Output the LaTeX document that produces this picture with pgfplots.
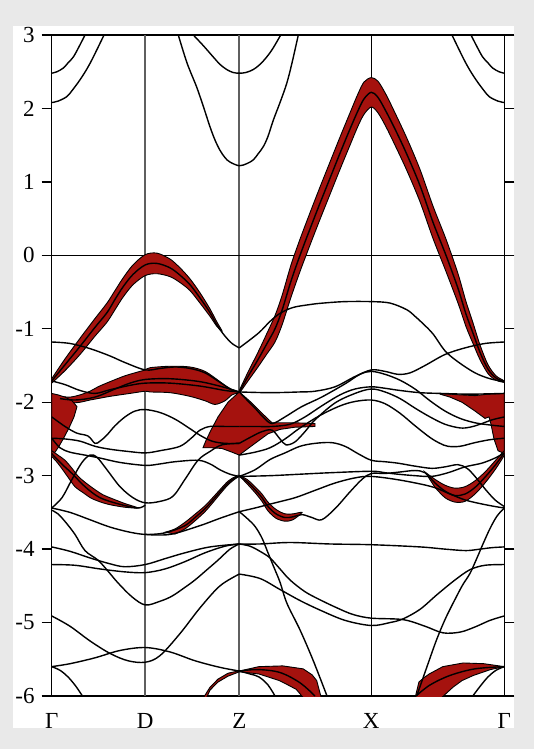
\documentclass[border=0pt]{standalone}
\usepackage{fontspec}
\setmainfont{Liberation Serif}
\usepackage{pgfplots}
\pgfplotsset{compat=1.18}
\definecolor{bgc}{RGB}{233,233,233}
\definecolor{fatred}{RGB}{165,18,14}
\definecolor{symline}{RGB}{95,95,95}
\pgfplotsset{
  bl/.style={black, line width=0.7pt, smooth, tension=0.55, no marks},
  fat/.style={fill=fatred, draw=black, line width=0.45pt, no marks},
  fats/.style={fill=fatred, draw=black, line width=0.45pt, no marks, smooth, tension=0.5},
}
\begin{document}
\begin{tikzpicture}
\fill[bgc] (0pt,0pt) rectangle (267pt,-374.5pt);
\fill[white] (6.5pt,-13pt) rectangle (257pt,-364pt);
\begin{axis}[
  at={(25.85pt,-348pt)}, anchor=south west,
  scale only axis, width=226.3pt, height=330.5pt,
  xmin=51.7, xmax=504.3, ymin=-6, ymax=3,
  axis line style={black, line width=0.65pt},
  ytick={-6,-5,-4,-3,-2,-1,0,1,2,3},
  yticklabels={-6,-5,-4,-3,-2,-1,0,1,2,3},
  ytick pos=both, yticklabel pos=left,
  tick align=outside, major tick length=5pt,
  ytick style={black, line width=0.65pt},
  xtick={51.7,145.3,239.3,371.3,504.3},
  xticklabels={Γ,D,Z,X,Γ},
  xtick style={draw=none},
  ticklabel style={font=\fontsize{11.5}{11.5}\selectfont},
  clip=true,
]
% ---------- reference lines
\addplot[symline, line width=1pt] coordinates {(145.3,-6)(145.3,3)};
\addplot[symline, line width=1pt] coordinates {(239.3,-6)(239.3,3)};
\addplot[black, line width=0.65pt] coordinates {(371.3,-6)(371.3,3)};
\addplot[black, line width=0.65pt] coordinates {(51.7,0)(504.3,0)};

% ---------- fat bands
\addplot[fats] coordinates {(51.7,-1.68)(65,-1.41)(80,-1.13)(95,-0.86)(107,-0.65)(115,-0.48)(123,-0.31)(133,-0.13)(145.3,0.01)(157,0.03)(170,-0.05)(180,-0.17)(190,-0.32)(200,-0.51)(210,-0.73)(217,-0.91)(222,-1.03)
 (217,-0.97)(210,-0.83)(200,-0.65)(190,-0.48)(180,-0.37)(170,-0.29)(157,-0.25)(145.3,-0.275)(133,-0.40)(123,-0.57)(115,-0.74)(107,-0.91)(95,-1.10)(80,-1.35)(65,-1.57)(51.7,-1.74)} -- cycle;
\addplot[fats] coordinates {(239.3,-1.84)(248,-1.59)(258,-1.32)(267,-1.06)(275,-0.82)(282,-0.55)(291,-0.13)(300,0.22)(310,0.58)(320,0.93)(330,1.27)(340,1.61)(350,1.94)(358,2.2)(364,2.36)(371.3,2.42)(378,2.37)(386,2.19)(395,1.94)(406.7,1.60)(420,1.17)(433,0.67)(446,0.22)(458,-0.25)(466,-0.63)(473,-0.92)(480,-1.22)(488,-1.49)(496,-1.64)(504.3,-1.71)
 (504.3,-1.73)(496,-1.70)(488,-1.61)(480,-1.42)(473,-1.20)(466,-0.97)(458,-0.65)(446,-0.22)(433,0.23)(420,0.73)(406.7,1.16)(395,1.50)(386,1.75)(378,1.94)(371.3,2.02)(364,1.92)(358,1.76)(350,1.50)(340,1.17)(330,0.83)(320,0.49)(310,0.14)(300,-0.22)(291,-0.57)(282,-0.95)(275,-1.18)(267,-1.34)(258,-1.52)(248,-1.71)(239.3,-1.88)} -- cycle;
\addplot[fats] coordinates {(60,-1.92)(70,-1.93)(80,-1.9)(90,-1.85)(98,-1.79)(110,-1.72)(125,-1.64)(140,-1.58)(145.3,-1.56)(150,-1.53)(170,-1.51)(190,-1.52)(205,-1.58)(220,-1.72)(232,-1.84)(239.3,-1.86)
 (239.3,-1.87)(232,-1.9)(225,-1.98)(215,-2.03)(205,-1.98)(190,-1.92)(170,-1.87)(150,-1.86)(145.3,-1.85)(130,-1.88)(110,-1.92)(98,-1.95)(90,-1.97)(80,-2.0)(70,-2.01)(60,-1.98)} -- cycle;
\addplot[fat] coordinates {(51.7,-1.88)(58,-1.9)(65,-1.93)(72,-1.98)(77,-2.06)(74,-2.2)(69,-2.35)(64,-2.48)(59,-2.6)(55,-2.68)(51.7,-2.72)} -- cycle;
\addplot[fat] coordinates {(440,-1.88)(460,-1.9)(475,-1.91)(488,-1.89)(504.3,-1.88)(504.3,-2.7)(498,-2.66)(494,-2.5)(491,-2.3)(489,-2.2)(485,-2.22)(475,-2.12)(462,-2.0)(450,-1.93)(440,-1.89)} -- cycle;
\addplot[fat] coordinates {(239.3,-1.86)(228,-2.0)(218,-2.2)(211,-2.38)(206,-2.52)(203,-2.62)(212,-2.62)(222,-2.63)(232,-2.68)(239.3,-2.72)(248,-2.63)(258,-2.53)(268,-2.43)(280,-2.37)(295,-2.34)(315,-2.33)(315,-2.29)(295,-2.28)(280,-2.28)(272,-2.28)(262,-2.15)(251,-2.0)(239.3,-1.86)} -- cycle;
\addplot[fats] coordinates {(51.7,-2.66)(58,-2.72)(65,-2.79)(72,-2.9)(78.3,-3.01)(86,-3.1)(95,-3.19)(103,-3.26)(111.7,-3.31)(125,-3.38)(138,-3.44)
 (125,-3.43)(111.7,-3.4)(103,-3.37)(91.7,-3.31)(83,-3.23)(75,-3.15)(68,-3.02)(61.7,-2.9)(56,-2.8)(51.7,-2.74)} -- cycle;
\addplot[fats] coordinates {(165,-3.77)(175,-3.725)(185,-3.635)(195,-3.525)(205,-3.41)(213,-3.295)(220,-3.19)(228,-3.075)(235,-3.015)(239.3,-3.005)
 (235,-3.045)(228,-3.125)(220,-3.25)(213,-3.365)(205,-3.49)(195,-3.615)(185,-3.725)(175,-3.795)} -- cycle;
\addplot[fats] coordinates {(239.3,-3.0)(247,-3.05)(255,-3.15)(262,-3.25)(268,-3.36)(276,-3.46)(285,-3.52)(293,-3.52)(302,-3.5)
 (293,-3.60)(285,-3.62)(276,-3.58)(268,-3.48)(262,-3.35)(255,-3.23)(247,-3.11)} -- cycle;
\addplot[fats] coordinates {(425,-2.95)(435,-3.05)(445,-3.13)(455,-3.17)(465,-3.15)(475,-3.07)(485,-2.95)(495,-2.8)(504.3,-2.66)
 (504.3,-2.72)(495,-2.92)(485,-3.1)(475,-3.25)(465,-3.35)(455,-3.36)(445,-3.3)(435,-3.16)} -- cycle;
\addplot[fat] coordinates {(239.4,-5.66)(258.9,-5.6)(282.7,-5.59)(303.1,-5.63)(312,-5.71)(316.7,-5.79)(321.2,-6.02)(321.2,-6.2)(303.1,-6.2)(303.1,-6.02)(296.3,-5.91)(288,-5.85)(279.3,-5.79)(268,-5.74)(258.9,-5.70)(239.4,-5.67)} -- cycle;
\addplot[fat] coordinates {(200,-6.1)(210,-5.88)(218,-5.77)(228,-5.69)(239.4,-5.655)(239.4,-5.67)(228,-5.73)(218,-5.81)(210,-5.92)(204,-6.1)} -- cycle;
\addplot[fat] coordinates {(412,-6.2)(418.9,-5.81)(424,-5.75)(429.2,-5.70)(442.8,-5.6)(463.2,-5.55)(483.7,-5.56)(504.3,-5.6)(490.5,-5.64)(473.4,-5.72)(462,-5.79)(453,-5.88)(439.4,-6.05)(437,-6.2)} -- cycle;

% ---------- upper lines
\addplot[bl] coordinates {(51.7,2.48)(57,2.5)(63.3,2.55)(68,2.62)(73.3,2.70)(79,2.84)(85,3.0)};
\addplot[bl] coordinates {(51.7,2.08)(58,2.1)(66.7,2.16)(73,2.26)(80,2.39)(87,2.54)(93.3,2.7)(104,3.0)};
\addplot[bl] coordinates {(504.3,2.48)(499,2.5)(492.7,2.55)(488,2.62)(482.7,2.70)(477,2.84)(471,3.0)};
\addplot[bl] coordinates {(504.3,2.08)(498,2.1)(489.3,2.16)(483,2.26)(476,2.39)(469,2.54)(462.7,2.7)(452,3.0)};
\addplot[bl] coordinates {(193.3,3.0)(203,2.86)(213.3,2.70)(220,2.6)(226.7,2.53)(233,2.49)(239.3,2.48)(246,2.49)(253.3,2.53)(260,2.6)(266.7,2.70)(273,2.82)(280.7,3.0)};
\addplot[bl] coordinates {(178.3,3.0)(187,2.62)(196.7,2.29)(204,2.0)(210,1.75)(215,1.57)(220,1.43)(225,1.33)(230,1.27)(239.3,1.22)(247,1.25)(253.3,1.30)(258,1.38)(263.3,1.48)(268,1.62)(273.3,1.84)(280,2.08)(286.7,2.34)(292,2.62)(298.3,3.0)};

% ---------- fat band centre lines
\addplot[bl] coordinates {(51.7,-1.71)(65,-1.49)(80,-1.24)(95,-0.98)(107,-0.78)(115,-0.6)(123,-0.43)(133,-0.26)(145.3,-0.13)(157,-0.11)(170,-0.17)(180,-0.27)(190,-0.40)(200,-0.58)(210,-0.78)(217,-0.95)(225,-1.1)(232,-1.2)(239.3,-1.26)};
\addplot[bl] coordinates {(239.3,-1.86)(248,-1.65)(258,-1.42)(267,-1.2)(275,-1.0)(282,-0.75)(291,-0.35)(300,0.0)(310,0.36)(320,0.71)(330,1.05)(340,1.39)(350,1.72)(358,1.97)(364,2.13)(371.3,2.22)(378,2.15)(386,1.96)(395,1.72)(406.7,1.38)(420,0.95)(433,0.45)(446,0.0)(458,-0.45)(466,-0.8)(473,-1.06)(480,-1.32)(488,-1.55)(496,-1.67)(504.3,-1.72)};
\addplot[bl] coordinates {(51.7,-2.7)(61.7,-2.84)(72,-2.97)(85,-3.15)(100,-3.3)(120,-3.39)(138,-3.44)(145.3,-3.4)};

% ---------- Gamma-D-Z lines
\addplot[bl] coordinates {(51.7,-1.18)(70,-1.2)(90,-1.27)(110,-1.37)(125,-1.46)(145.3,-1.56)(160,-1.54)(175,-1.52)(190,-1.54)(205,-1.6)(220,-1.73)(232,-1.83)(239.3,-1.86)};
\addplot[bl] coordinates {(51.7,-1.71)(65,-1.76)(80,-1.84)(95,-1.88)(110,-1.83)(130,-1.77)(145.3,-1.74)(170,-1.74)(200,-1.78)(225,-1.84)(239.3,-1.86)};
\addplot[bl] coordinates {(60,-1.95)(75,-1.97)(95,-1.93)(115,-1.82)(130,-1.74)(145.3,-1.69)(170,-1.68)(200,-1.72)(225,-1.8)(239.3,-1.86)};
\addplot[bl] coordinates {(51.7,-2.2)(65,-2.33)(76.7,-2.42)(88,-2.46)(95,-2.56)(100,-2.53)(106.7,-2.45)(115,-2.32)(125,-2.2)(135,-2.12)(145.3,-2.1)(160,-2.14)(175,-2.23)(190,-2.36)(200,-2.45)(212,-2.53)(225,-2.56)(239.3,-2.56)};
\addplot[bl] coordinates {(51.7,-2.49)(65,-2.5)(80,-2.53)(95,-2.6)(110,-2.64)(128,-2.67)(145.3,-2.69)(160,-2.66)(180,-2.6)(192,-2.48)(200,-2.38)(210,-2.33)(225,-2.33)(239.3,-2.33)};
\addplot[bl] coordinates {(51.7,-2.49)(60,-2.62)(70,-2.68)(85,-2.72)(100,-2.76)(120,-2.82)(145.3,-2.86)(160,-2.84)(175,-2.81)(198,-2.79)(210,-2.84)(220,-2.92)(230,-2.98)(239.3,-3.01)};
\addplot[bl] coordinates {(51.7,-3.44)(62,-3.3)(72,-3.05)(82,-2.82)(90,-2.72)(97,-2.75)(107,-2.92)(120,-3.15)(133,-3.3)(145.3,-3.37)(160,-3.35)(173,-3.28)(185,-3.05)(198,-2.79)(210,-2.67)(222,-2.58)(239.3,-2.56)};
\addplot[bl] coordinates {(51.7,-3.44)(70,-3.5)(90,-3.6)(110,-3.7)(130,-3.77)(145.3,-3.8)(160,-3.79)(170,-3.76)(185,-3.68)(195,-3.57)(205,-3.45)(213,-3.33)(220,-3.22)(228,-3.1)(235,-3.03)(239.3,-3.01)};
\addplot[bl] coordinates {(145.3,-3.8)(170,-3.8)(200,-3.68)(220,-3.58)(239.3,-3.49)};

% ---------- Z-X-Gamma lines
\addplot[bl] coordinates {(239.3,-1.26)(250,-1.15)(260,-1.04)(270,-0.9)(280,-0.79)(293,-0.71)(310,-0.67)(323,-0.65)(345,-0.63)(371.3,-0.63)(390,-0.65)(406.7,-0.74)(415,-0.83)(423,-0.93)(433,-1.07)(445,-1.3)(458,-1.45)(475,-1.6)(490,-1.68)(504.3,-1.72)};
\addplot[bl] coordinates {(239.3,-1.86)(270,-1.87)(300,-1.86)(315,-1.85)(335,-1.79)(355,-1.65)(371.3,-1.56)(385,-1.58)(398,-1.62)(410,-1.6)(425,-1.5)(445,-1.35)(465,-1.26)(485,-1.2)(504.3,-1.18)};
\addplot[bl] coordinates {(239.3,-1.86)(247,-1.97)(255,-2.08)(263,-2.2)(272,-2.29)(285,-2.2)(301.7,-2.06)(321.7,-1.93)(345,-1.75)(360,-1.62)(371.3,-1.58)(385,-1.62)(400,-1.7)(415,-1.82)(430,-1.98)(445,-2.12)(460,-2.22)(475,-2.28)(490,-2.31)(504.3,-2.33)};
\addplot[bl] coordinates {(239.3,-2.33)(255,-2.33)(272,-2.33)(290,-2.3)(305,-2.2)(321.7,-2.05)(340,-1.9)(355,-1.82)(371.3,-1.79)(385,-1.81)(400,-1.84)(420,-1.87)(440,-1.88)(470,-1.89)(504.3,-1.88)};
\addplot[bl] coordinates {(239.3,-2.56)(250,-2.48)(262,-2.4)(272,-2.38)(280,-2.5)(286,-2.58)(295,-2.54)(305,-2.4)(315,-2.24)(335,-2.01)(355,-1.88)(371.3,-1.82)(385,-1.86)(400,-1.95)(415,-2.08)(430,-2.2)(445,-2.3)(460,-2.35)(470,-2.34)(480,-2.3)(492,-2.24)(504.3,-2.2)};
\addplot[bl] coordinates {(239.3,-2.72)(255,-2.68)(270,-2.62)(285,-2.5)(300,-2.35)(320,-2.18)(340,-2.05)(355,-1.99)(371.3,-1.97)(385,-2.02)(400,-2.15)(415,-2.32)(430,-2.48)(440,-2.56)(448,-2.6)(460,-2.6)(475,-2.55)(490,-2.51)(504.3,-2.49)};
\addplot[bl] coordinates {(239.3,-3.01)(255,-2.92)(270,-2.78)(285,-2.69)(300,-2.6)(315,-2.56)(331.7,-2.55)(345,-2.6)(358,-2.7)(371.3,-2.79)(385,-2.81)(398,-2.83)(415,-2.87)(431.7,-2.9)(445,-2.88)(458,-2.85)(467,-2.9)(475,-3.01)(485,-3.18)(495,-3.33)(504.3,-3.42)};
\addplot[bl] coordinates {(239.3,-3.01)(270,-3.0)(300,-2.98)(330,-2.96)(371.3,-2.94)(385,-2.96)(398,-2.98)(415,-3.0)(431.7,-3.01)(448,-2.96)(465,-2.88)(481.7,-2.83)(495,-2.76)(504.3,-2.69)};
\addplot[bl] coordinates {(239.3,-3.49)(255,-3.44)(275,-3.37)(295,-3.3)(315,-3.2)(335,-3.1)(355,-3.03)(371.3,-3.01)(400,-3.06)(431.7,-3.15)(450,-3.25)(465,-3.33)(480,-3.38)(495,-3.42)(504.3,-3.44)};
\addplot[bl] coordinates {(239.3,-3.01)(247,-3.08)(255,-3.19)(262,-3.3)(268,-3.42)(276,-3.52)(285,-3.57)(293,-3.56)(302,-3.53)(312,-3.57)(321.7,-3.6)(335,-3.45)(350,-3.22)(362,-3.05)(371.3,-2.97)(385,-2.97)(400,-2.95)(415,-2.93)(425,-2.96)(435,-3.1)(445,-3.21)(455,-3.27)(465,-3.25)(475,-3.16)(485,-3.02)(495,-2.86)(504.3,-2.69)};

% ---------- lower lines
\addplot[bl] coordinates {(239.3,-3.93)(260,-3.93)(290,-3.91)(330,-3.93)(371.3,-3.94)(420,-3.97)(445,-4.0)(466,-4.02)(480,-4.0)(492,-3.98)(504.3,-3.97)};
\addplot[bl] coordinates {(239.3,-3.49)(247,-3.58)(255,-3.69)(262,-3.85)(268,-4.05)(274,-4.25)(280,-4.45)(287,-4.74)(300,-5.1)(313,-5.51)(327,-6.0)};
\addplot[bl] coordinates {(416.7,-6.0)(427,-5.6)(436.7,-5.23)(446,-4.93)(456.7,-4.64)(463,-4.48)(470,-4.33)(477,-4.12)(483.3,-3.92)(490,-3.72)(497,-3.55)(504.3,-3.44)};
\addplot[bl] coordinates {(239.3,-3.93)(250,-3.96)(260,-4.03)(270,-4.12)(280,-4.27)(290,-4.42)(305,-4.58)(320,-4.69)(337,-4.8)(353,-4.89)(371.3,-4.94)(403,-4.96)(425,-5.05)(443,-5.14)(460,-5.13)(475,-5.06)(490,-4.97)(504.3,-4.91)};
\addplot[bl] coordinates {(239.3,-4.34)(260,-4.4)(280,-4.55)(300,-4.7)(320,-4.83)(345,-4.97)(371.3,-5.04)(390,-5.0)(403,-4.95)(420,-4.82)(437,-4.62)(455,-4.42)(470,-4.28)(485,-4.22)(504.3,-4.21)};
\addplot[bl] coordinates {(239.3,-5.66)(250,-5.7)(258.9,-5.74)(268,-5.85)(275.9,-6.02)};
\addplot[bl] coordinates {(51.7,-5.6)(60,-5.65)(68,-5.74)(76,-5.87)(83.4,-6.02)};
\addplot[bl] coordinates {(504.3,-5.6)(496,-5.65)(488,-5.74)(480,-5.87)(471.7,-6.02)};
\addplot[bl] coordinates {(51.7,-4.91)(70,-5.05)(90,-5.25)(110,-5.42)(128,-5.52)(145.3,-5.54)(160,-5.45)(180,-5.15)(200,-4.8)(220,-4.5)(239.3,-4.34)};
\addplot[bl] coordinates {(51.7,-5.6)(70,-5.56)(95,-5.48)(120,-5.38)(145.3,-5.34)(170,-5.4)(195,-5.52)(220,-5.61)(239.3,-5.66)};
\addplot[bl] coordinates {(51.7,-3.97)(70,-4.03)(90,-4.12)(110,-4.2)(125,-4.24)(145.3,-4.21)(165,-4.13)(185,-4.05)(210,-3.97)(239.3,-3.93)};
\addplot[bl] coordinates {(51.7,-4.21)(75,-4.22)(100,-4.27)(125,-4.31)(145.3,-4.32)(165,-4.27)(185,-4.17)(205,-4.05)(225,-3.96)(239.3,-3.93)};
\addplot[bl] coordinates {(51.7,-3.47)(58,-3.52)(66,-3.64)(75,-3.8)(85,-4.02)(98,-4.15)(108,-4.3)(118,-4.46)(132,-4.65)(145.3,-4.76)(160,-4.71)(172,-4.64)(185,-4.52)(195,-4.42)(207,-4.28)(218,-4.15)(230,-4.0)(239.3,-3.93)};
\addplot[bl] coordinates {(239.4,-5.66)(258,-5.64)(280,-5.68)(300,-5.82)(315,-6.0)};
\addplot[bl] coordinates {(416,-6.0)(430,-5.85)(450,-5.72)(475,-5.63)(504.3,-5.6)};
\end{axis}
\end{tikzpicture}
\end{document}
